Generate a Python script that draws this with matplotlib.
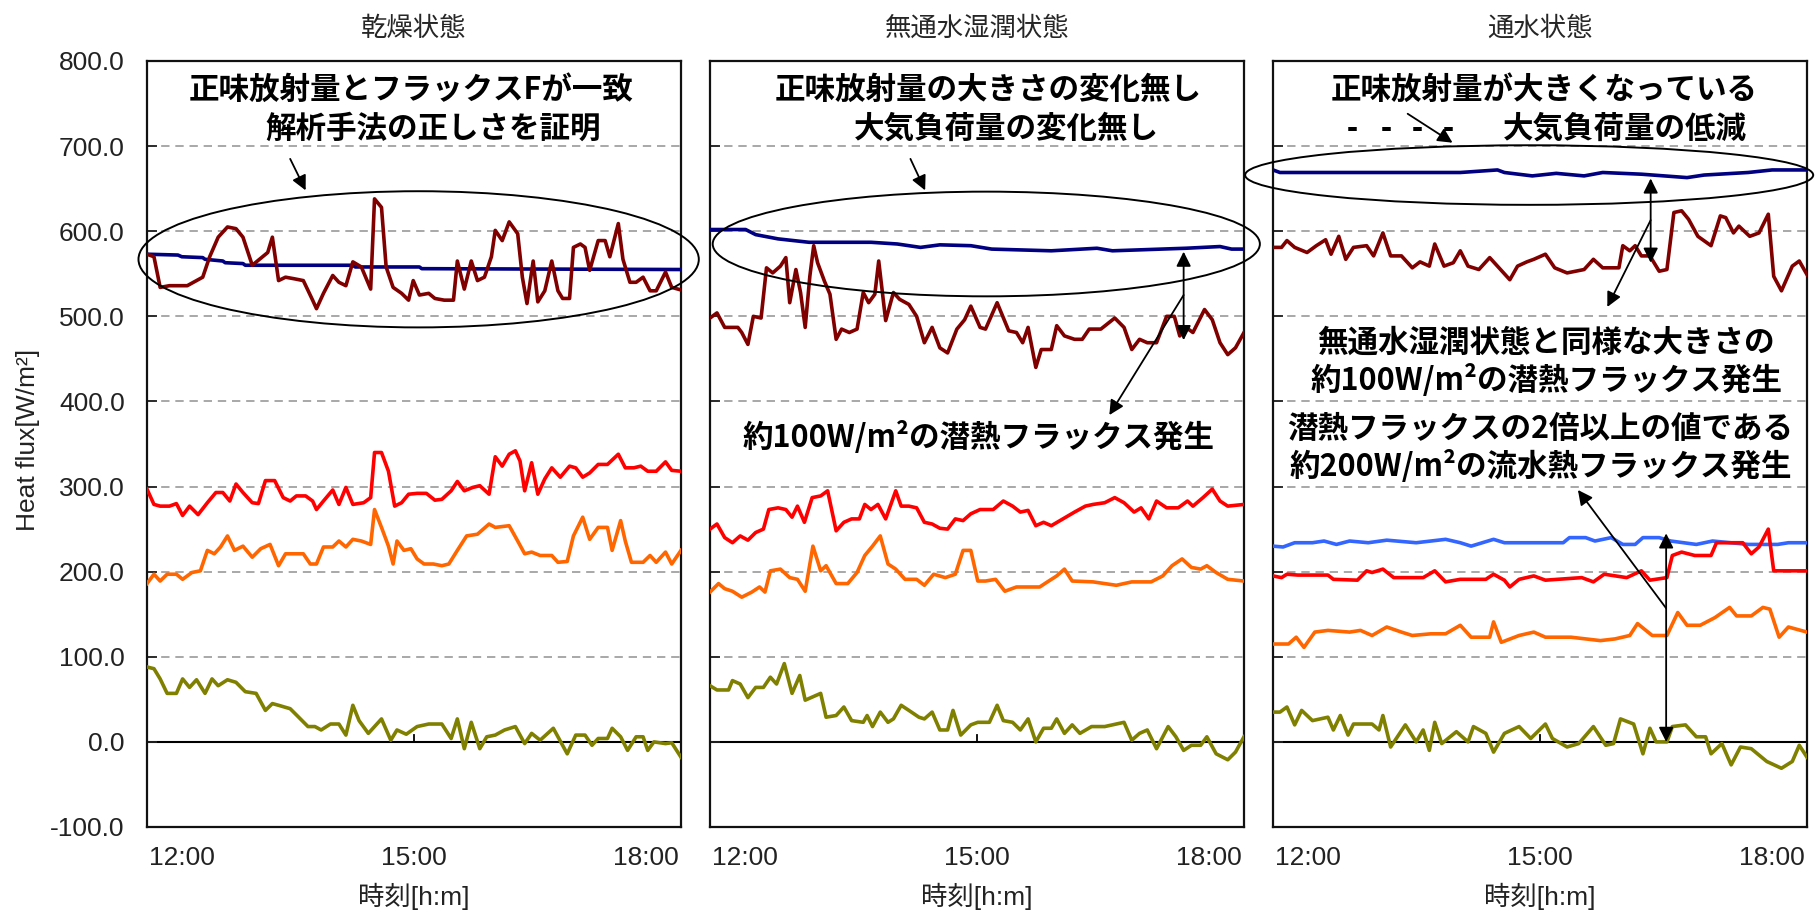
import matplotlib
matplotlib.use('Agg')
import matplotlib.pyplot as plt
from matplotlib.patches import Ellipse

plt.rcParams['font.family'] = ['Liberation Sans', 'Noto Sans CJK JP']

# --- series colours (Excel default-ish) ---
C_RN = '#000080'    # net radiation
C_F = '#800000'     # flux F
C_RED = '#ff0000'
C_ORG = '#ff6600'
C_OLV = '#808000'
C_LBL = '#3366ff'

titles = ['乾燥状態', '無通水湿潤状態', '通水状態']
xticks = [12, 15, 18]
xticklabels = ['12:00', '15:00', '18:00']
yticks = [-100, 0, 100, 200, 300, 400, 500, 600, 700, 800]

# ---------------- 乾燥状態 (time in hours) ----------------
dry_rn_t = [11.55, 11.95, 12.00, 12.27, 12.30, 12.53, 12.56, 12.79, 12.82, 14.21, 14.24, 15.07, 15.10, 18.45]
dry_rn = [573, 572, 570, 569, 567, 565, 563, 562, 560, 560, 558, 558, 556, 555]

dry_F_t = [11.55, 11.64, 11.72, 11.84, 11.95, 12.07, 12.19, 12.27, 12.36, 12.47,
           12.59, 12.70, 12.79, 12.91, 12.99, 13.11, 13.17, 13.25, 13.34, 13.46,
           13.57, 13.69, 13.74, 13.83, 13.95, 14.03, 14.12, 14.21, 14.32, 14.44,
           14.49, 14.58, 14.64, 14.73, 14.84, 14.93, 14.99, 15.07, 15.19, 15.27,
           15.39, 15.51, 15.56, 15.65, 15.74, 15.82, 15.91, 16.00, 16.05, 16.14,
           16.23, 16.34, 16.40, 16.46, 16.54, 16.60, 16.69, 16.78, 16.86, 16.92,
           17.01, 17.06, 17.15, 17.21, 17.27, 17.38, 17.47, 17.53, 17.64, 17.70,
           17.79, 17.87, 17.96, 18.05, 18.13, 18.25, 18.33, 18.45]
dry_F = [573, 570, 534, 536, 536, 536, 542, 546, 570, 593,
         605, 603, 593, 560, 566, 575, 593, 542, 546, 544,
         542, 519, 509, 527, 548, 540, 536, 564, 558, 532,
         638, 628, 558, 534, 527, 519, 542, 525, 527, 521,
         519, 519, 565, 532, 565, 542, 546, 570, 601, 589,
         611, 597, 546, 515, 565, 517, 530, 565, 530, 521,
         521, 581, 585, 581, 554, 589, 589, 570, 609, 567,
         540, 540, 546, 530, 530, 552, 534, 531]

dry_red_t = [11.55, 11.64, 11.72, 11.84, 11.93, 12.01, 12.10, 12.21, 12.33, 12.44,
             12.53, 12.62, 12.70, 12.79, 12.91, 12.99, 13.08, 13.20, 13.31, 13.40,
             13.48, 13.60, 13.69, 13.74, 13.83, 13.95, 14.03, 14.12, 14.21, 14.35,
             14.44, 14.49, 14.58, 14.67, 14.75, 14.84, 14.93, 15.04, 15.16, 15.27,
             15.36, 15.48, 15.56, 15.65, 15.76, 15.85, 15.97, 16.05, 16.14, 16.23,
             16.31, 16.37, 16.43, 16.52, 16.60, 16.69, 16.78, 16.89, 17.01, 17.09,
             17.18, 17.27, 17.38, 17.50, 17.64, 17.73, 17.84, 17.93, 18.02, 18.13,
             18.25, 18.33, 18.45]
dry_red = [297, 279, 277, 277, 280, 266, 277, 267, 281, 293,
           293, 283, 303, 293, 281, 280, 307, 307, 287, 283,
           289, 289, 283, 273, 283, 296, 279, 299, 279, 281,
           287, 340, 340, 318, 277, 281, 291, 292, 292, 284,
           285, 295, 306, 295, 299, 301, 291, 335, 324, 338,
           342, 330, 295, 328, 291, 309, 322, 311, 324, 322,
           311, 316, 326, 326, 338, 322, 322, 324, 318, 318,
           329, 319, 318]

dry_org_t = [11.55, 11.64, 11.72, 11.81, 11.93, 12.01, 12.13, 12.24, 12.33, 12.42,
             12.50, 12.59, 12.68, 12.79, 12.91, 13.02, 13.14, 13.25, 13.34, 13.46,
             13.57, 13.66, 13.74, 13.83, 13.95, 14.03, 14.12, 14.21, 14.32, 14.44,
             14.49, 14.58, 14.67, 14.73, 14.78, 14.87, 14.96, 15.04, 15.13, 15.25,
             15.36, 15.45, 15.56, 15.68, 15.82, 15.97, 16.05, 16.23, 16.34, 16.43,
             16.52, 16.63, 16.78, 16.86, 16.98, 17.06, 17.18, 17.27, 17.38, 17.50,
             17.56, 17.67, 17.73, 17.81, 17.96, 18.05, 18.13, 18.25, 18.33, 18.45]
dry_org = [186, 197, 189, 197, 197, 191, 199, 201, 225, 221,
           229, 242, 225, 230, 217, 227, 232, 207, 221, 221,
           221, 209, 209, 229, 229, 236, 229, 238, 236, 232,
           273, 252, 230, 209, 236, 225, 227, 215, 209, 209,
           207, 209, 225, 242, 244, 256, 252, 254, 236, 221,
           223, 219, 219, 211, 212, 242, 264, 238, 252, 252,
           225, 260, 236, 211, 211, 219, 211, 223, 209, 225]

dry_olv_t = [11.55, 11.64, 11.72, 11.81, 11.93, 12.01, 12.10, 12.19, 12.30, 12.39,
             12.47, 12.59, 12.70, 12.82, 12.96, 13.08, 13.17, 13.25, 13.40, 13.51,
             13.63, 13.72, 13.80, 13.92, 14.03, 14.12, 14.21, 14.29, 14.41, 14.58,
             14.70, 14.78, 14.90, 15.04, 15.19, 15.36, 15.48, 15.56, 15.65, 15.74,
             15.85, 15.94, 16.05, 16.17, 16.31, 16.43, 16.52, 16.63, 16.80, 16.98,
             17.09, 17.21, 17.30, 17.38, 17.50, 17.56, 17.67, 17.76, 17.87, 17.96,
             18.02, 18.10, 18.25, 18.33, 18.45]
dry_olv = [88, 86, 74, 57, 57, 74, 64, 73, 57, 74,
           66, 73, 70, 59, 57, 37, 45, 43, 39, 29,
           18, 18, 14, 21, 21, 8, 43, 25, 10, 27,
           2, 14, 9, 18, 21, 21, 4, 27, -8, 23,
           -8, 6, 8, 14, 18, -2, 10, 2, 16, -14,
           8, 8, -4, 4, 4, 16, 6, -10, 6, 6,
           -10, 0, -2, -1, -18]

# ---------------- 無通水湿潤状態 ----------------
wet_rn_t = [11.55, 12.01, 12.14, 12.43, 12.83, 13.63, 13.97, 14.27, 14.52, 14.92, 15.19, 15.96, 16.55, 16.75, 17.70, 18.14, 18.29, 18.45]
wet_rn = [602, 602, 596, 591, 587, 587, 585, 581, 584, 583, 579, 577, 580, 577, 580, 582, 579, 579]

wet_F_t = [11.55, 11.64, 11.74, 11.91, 11.96, 12.04, 12.11, 12.21, 12.28, 12.36,
           12.46, 12.53, 12.58, 12.66, 12.72, 12.78, 12.84, 12.89, 12.94, 13.03,
           13.10, 13.18, 13.25, 13.35, 13.45, 13.53, 13.60, 13.68, 13.73, 13.82,
           13.92, 14.00, 14.12, 14.22, 14.32, 14.42, 14.52, 14.62, 14.74, 14.84,
           14.92, 15.04, 15.11, 15.26, 15.41, 15.51, 15.59, 15.66, 15.76, 15.83,
           15.96, 16.03, 16.13, 16.26, 16.36, 16.45, 16.60, 16.78, 16.90, 17.00,
           17.10, 17.20, 17.32, 17.45, 17.55, 17.62, 17.70, 17.79, 17.94, 18.04,
           18.14, 18.24, 18.34, 18.45]
wet_F = [498, 504, 487, 487, 481, 467, 500, 498, 557, 551,
         559, 569, 516, 555, 528, 487, 547, 583, 563, 541,
         526, 473, 485, 481, 485, 528, 516, 526, 565, 495,
         528, 520, 514, 500, 469, 487, 463, 457, 485, 496,
         512, 487, 485, 516, 483, 481, 469, 487, 440, 461,
         461, 489, 477, 473, 473, 485, 485, 498, 487, 461,
         473, 469, 469, 500, 500, 477, 487, 481, 508, 496,
         469, 455, 463, 481]

wet_red_t = [11.55, 11.64, 11.74, 11.84, 11.94, 12.04, 12.14, 12.24, 12.31, 12.43,
             12.53, 12.61, 12.68, 12.77, 12.87, 12.98, 13.07, 13.18, 13.28, 13.38,
             13.48, 13.55, 13.63, 13.72, 13.82, 13.95, 14.02, 14.12, 14.22, 14.32,
             14.42, 14.52, 14.62, 14.72, 14.82, 14.92, 15.04, 15.21, 15.34, 15.46,
             15.56, 15.66, 15.76, 15.86, 15.96, 16.11, 16.26, 16.40, 16.50, 16.65,
             16.78, 16.90, 17.03, 17.12, 17.22, 17.32, 17.45, 17.60, 17.72, 17.79,
             17.92, 18.04, 18.14, 18.24, 18.45]
wet_red = [250, 256, 240, 234, 242, 237, 246, 250, 273, 275,
           273, 264, 277, 258, 287, 289, 295, 248, 258, 262,
           262, 279, 273, 279, 262, 295, 277, 277, 275, 258,
           256, 251, 250, 262, 260, 268, 273, 273, 283, 277,
           270, 272, 254, 258, 254, 262, 270, 277, 279, 281,
           287, 281, 270, 275, 262, 283, 275, 275, 283, 277,
           287, 297, 283, 277, 279]

wet_org_t = [11.55, 11.66, 11.74, 11.84, 11.96, 12.09, 12.19, 12.26, 12.33, 12.46,
             12.58, 12.68, 12.78, 12.88, 12.98, 13.05, 13.18, 13.33, 13.45, 13.55,
             13.65, 13.75, 13.85, 13.95, 14.07, 14.22, 14.32, 14.44, 14.59, 14.72,
             14.82, 14.92, 15.01, 15.11, 15.24, 15.36, 15.51, 15.81, 15.91, 16.03,
             16.13, 16.23, 16.50, 16.80, 17.00, 17.25, 17.40, 17.52, 17.65, 17.77,
             17.89, 17.97, 18.09, 18.24, 18.45]
wet_org = [176, 186, 180, 177, 170, 176, 182, 176, 201, 203,
           193, 191, 177, 230, 201, 207, 186, 186, 199, 219,
           230, 242, 209, 203, 191, 191, 184, 197, 193, 197,
           225, 225, 189, 189, 191, 177, 182, 182, 188, 195,
           203, 189, 188, 184, 188, 188, 195, 207, 215, 205,
           203, 207, 199, 191, 189]

wet_olv_t = [11.55, 11.64, 11.79, 11.84, 11.94, 12.04, 12.14, 12.24, 12.33, 12.41,
             12.51, 12.61, 12.71, 12.78, 12.88, 12.98, 13.05, 13.18, 13.28, 13.38,
             13.53, 13.58, 13.65, 13.75, 13.85, 13.92, 14.02, 14.12, 14.25, 14.32,
             14.42, 14.52, 14.62, 14.69, 14.79, 14.92, 15.01, 15.16, 15.26, 15.34,
             15.46, 15.56, 15.66, 15.76, 15.86, 15.96, 16.03, 16.13, 16.23, 16.33,
             16.48, 16.65, 16.80, 16.90, 17.00, 17.10, 17.20, 17.32, 17.47, 17.57,
             17.67, 17.77, 17.89, 17.97, 18.09, 18.24, 18.34, 18.45]
wet_olv = [66, 61, 61, 72, 68, 52, 64, 64, 76, 68,
           92, 57, 78, 49, 53, 57, 29, 31, 41, 25,
           23, 31, 18, 35, 23, 27, 43, 37, 29, 27,
           35, 14, 14, 37, 8, 20, 23, 23, 43, 25,
           23, 14, 27, 0, 16, 16, 27, 10, 20, 10,
           18, 18, 21, 23, 2, 10, 14, -8, 18, 6,
           -10, -4, -4, 6, -14, -21, -12, 6]

# ---------------- 通水状態 ----------------
flow_rn_t = [11.55, 11.64, 13.97, 14.45, 14.54, 14.90, 15.21, 15.57, 15.81, 16.31, 16.90, 17.12, 17.69, 18.00, 18.45]
flow_rn = [672, 669, 669, 672, 669, 665, 668, 665, 669, 667, 663, 666, 669, 672, 672]

flow_lb_t = [11.55, 11.68, 11.83, 12.06, 12.21, 12.37, 12.54, 12.78, 13.02, 13.40,
             13.78, 13.97, 14.11, 14.40, 14.54, 15.30, 15.38, 15.59, 15.71, 15.92,
             16.07, 16.23, 16.33, 16.54, 16.69, 17.02, 17.23, 17.69, 18.07, 18.21,
             18.45]
flow_lb = [230, 229, 234, 234, 236, 232, 236, 234, 237, 234,
           238, 234, 230, 238, 234, 234, 240, 240, 236, 240,
           232, 232, 240, 240, 236, 232, 236, 232, 232, 234,
           234]

flow_F_t = [11.55, 11.66, 11.73, 11.83, 11.99, 12.11, 12.23, 12.30, 12.40, 12.49,
            12.59, 12.76, 12.85, 12.97, 13.07, 13.21, 13.35, 13.45, 13.57, 13.64,
            13.76, 13.88, 13.97, 14.07, 14.21, 14.35, 14.45, 14.61, 14.71, 14.83,
            14.92, 15.07, 15.19, 15.35, 15.57, 15.69, 15.81, 16.02, 16.07, 16.16,
            16.23, 16.31, 16.42, 16.54, 16.64, 16.73, 16.83, 16.92, 17.04, 17.21,
            17.33, 17.40, 17.50, 17.57, 17.71, 17.83, 17.95, 18.02, 18.12, 18.26,
            18.35, 18.45]
flow_F = [581, 581, 589, 581, 575, 583, 590, 573, 594, 567,
          581, 583, 571, 598, 571, 571, 557, 564, 559, 585,
          559, 563, 577, 559, 555, 569, 559, 543, 559, 564,
          567, 573, 557, 551, 555, 567, 557, 557, 583, 577,
          583, 571, 571, 553, 555, 622, 624, 614, 594, 583,
          618, 616, 598, 606, 594, 598, 620, 547, 530, 559,
          565, 549]

flow_red_t = [11.55, 11.66, 11.73, 11.87, 12.26, 12.33, 12.64, 12.76, 12.83, 12.97,
              13.11, 13.49, 13.64, 13.78, 13.97, 14.30, 14.40, 14.54, 14.61, 14.73,
              14.92, 15.07, 15.54, 15.69, 15.83, 16.12, 16.31, 16.42, 16.64, 16.71,
              16.83, 17.00, 17.21, 17.28, 17.62, 17.73, 17.83, 17.95, 18.02, 18.45]
flow_red = [195, 193, 197, 196, 196, 191, 190, 201, 199, 203,
            193, 193, 201, 188, 191, 191, 197, 190, 182, 191,
            195, 190, 193, 188, 197, 193, 201, 190, 193, 219,
            223, 219, 219, 234, 234, 221, 229, 250, 201, 201]

flow_org_t = [11.55, 11.75, 11.85, 11.95, 12.09, 12.26, 12.54, 12.68, 12.83, 13.02,
              13.21, 13.35, 13.59, 13.78, 13.97, 14.11, 14.35, 14.40, 14.50, 14.73,
              14.92, 15.07, 15.40, 15.78, 15.97, 16.16, 16.26, 16.45, 16.64, 16.78,
              16.90, 17.07, 17.26, 17.45, 17.54, 17.73, 17.88, 17.97, 18.09, 18.21,
              18.45]
flow_org = [115, 115, 123, 111, 129, 131, 129, 131, 125, 135,
            129, 125, 127, 127, 137, 123, 123, 141, 117, 125,
            129, 123, 123, 119, 121, 125, 139, 125, 125, 152,
            137, 137, 146, 158, 148, 148, 158, 156, 123, 135,
            129]

flow_olv_t = [11.55, 11.64, 11.73, 11.83, 11.92, 12.06, 12.26, 12.33, 12.42, 12.52,
              12.59, 12.83, 12.92, 12.97, 13.07, 13.26, 13.40, 13.49, 13.57, 13.64,
              13.73, 13.92, 14.07, 14.14, 14.30, 14.40, 14.54, 14.73, 14.88, 15.07,
              15.16, 15.35, 15.50, 15.69, 15.85, 15.95, 16.04, 16.21, 16.33, 16.42,
              16.50, 16.64, 16.71, 16.88, 17.02, 17.14, 17.21, 17.35, 17.47, 17.59,
              17.73, 17.93, 18.12, 18.26, 18.35, 18.45]
flow_olv = [35, 35, 41, 20, 37, 25, 29, 14, 31, 8,
            21, 21, 14, 31, -6, 20, 0, 14, -10, 23,
            -2, 12, 0, 18, 10, -12, 10, 18, 4, 21,
            4, -6, -2, 18, -4, -2, 27, 21, -14, 16,
            0, 0, 18, 20, 6, 6, -14, -2, -27, -6,
            -8, -23, -31, -23, -4, -18]

# ---------------- annotations (text, t, value) ----------------
dry_notes = [('正味放射量とフラックスFが一致', 14.96, 766),
             ('解析手法の正しさを証明', 15.25, 721)]
wet_notes = [('正味放射量の大きさの変化無し', 15.14, 766),
             ('大気負荷量の変化無し', 15.38, 721),
             ('約100W/m²の潜熱フラックス発生', 15.02, 358)]
flow_notes = [('正味放射量が大きくなっている', 15.06, 766),
              ('大気負荷量の低減', 16.10, 721),
              ('無通水湿潤状態と同様な大きさの', 15.08, 469),
              ('約100W/m²の潜熱フラックス発生', 15.08, 425),
              ('潜熱フラックスの2倍以上の値である', 15.00, 368),
              ('約200W/m²の流水熱フラックス発生', 15.01, 323)]

# ellipse: centre t, centre value, width (h), height (W/m2)
dry_ell = (15.06, 567, 7.24, 160)
wet_ell = (15.12, 585, 7.07, 123)
flow_ell = (14.86, 666, 7.34, 70)

# arrows: start, end, style
dry_arrows = [((13.40, 685), (13.60, 648), '-|>')]
wet_arrows = [((14.14, 685), (14.33, 648), '-|>'),
              ((17.67, 576), (17.67, 472), '<|-|>'),
              ((17.67, 525), (16.71, 384), '-|>')]
flow_arrows = [((13.29, 738), (13.87, 704), '-|>'),
               ((16.43, 662), (16.43, 563), '<|-|>'),
               ((16.43, 613), (15.87, 511), '-|>'),
               ((16.63, 245), (16.63, 0), '<|-|>'),
               ((16.63, 157), (15.49, 296), '-|>')]
flow_dash_t = [12.58, 13.02, 13.42, 13.82]

panels = [
    dict(series=[(dry_rn_t, dry_rn, C_RN), (dry_F_t, dry_F, C_F), (dry_red_t, dry_red, C_RED),
                 (dry_org_t, dry_org, C_ORG), (dry_olv_t, dry_olv, C_OLV)],
         notes=dry_notes, ell=dry_ell, arrows=dry_arrows),
    dict(series=[(wet_rn_t, wet_rn, C_RN), (wet_F_t, wet_F, C_F), (wet_red_t, wet_red, C_RED),
                 (wet_org_t, wet_org, C_ORG), (wet_olv_t, wet_olv, C_OLV)],
         notes=wet_notes, ell=wet_ell, arrows=wet_arrows),
    dict(series=[(flow_rn_t, flow_rn, C_RN), (flow_lb_t, flow_lb, C_LBL), (flow_F_t, flow_F, C_F),
                 (flow_red_t, flow_red, C_RED), (flow_org_t, flow_org, C_ORG), (flow_olv_t, flow_olv, C_OLV)],
         notes=flow_notes, ell=flow_ell, arrows=flow_arrows),
]

W, H = 1816, 919
fig = plt.figure(figsize=(W / 100, H / 100), dpi=100)
lefts = [147, 710, 1273]
ax_w, ax_top, ax_bot = 534, 61, 827

note_font = dict(family=['Noto Sans CJK JP'], weight='bold', fontsize=22, color='black')

for i, p in enumerate(panels):
    ax = fig.add_axes([lefts[i] / W, (H - ax_bot) / H, ax_w / W, (ax_bot - ax_top) / H])
    ax.set_xlim(11.55, 18.45)
    ax.set_ylim(-100, 800)

    # dashed grid, solid zero line
    for v in yticks[2:-1]:
        ax.axhline(v, color='#999999', lw=1.2, dashes=(5, 3.5), zorder=1)
    ax.axhline(0, color='black', lw=1.5, zorder=1)
    ax.axvline(15, ymin=1 / 9, ymax=1 / 9 + 0.009, color='black', lw=1.3)

    for t, v, c in p['series']:
        ax.plot(t, v, color=c, lw=2.6, zorder=3)

    ax.set_yticks(yticks)
    ax.set_yticklabels(['%.1f' % v for v in yticks])
    ax.tick_params(axis='y', direction='in', length=7, width=1.3, pad=16,
                   labelsize=19, labelleft=(i == 0), colors='#222222')
    ax.set_xticks(xticks)
    ax.set_xticklabels(xticklabels)
    ax.tick_params(axis='x', length=0, pad=14, labelsize=19, colors='#222222')
    for s in ax.spines.values():
        s.set_linewidth(1.6)
        s.set_color('#111111')

    ax.set_title(titles[i], fontsize=19, pad=18, color='#262626')
    ax.set_xlabel('時刻[h:m]', fontsize=19, labelpad=9, color='#222222')

    for txt, t, v in p['notes']:
        ax.text(t, v, txt, ha='center', va='center', zorder=6, **note_font)

    et, ev, ew, eh = p['ell']
    ax.add_patch(Ellipse((et, ev), ew, eh, fill=False, ec='black', lw=1.4,
                         clip_on=False, zorder=5))

    for (x0, y0), (x1, y1), style in p['arrows']:
        ax.annotate('', xy=(x1, y1), xytext=(x0, y0), annotation_clip=False,
                    arrowprops=dict(arrowstyle=style, color='black', lw=1.3,
                                    mutation_scale=22, shrinkA=0, shrinkB=0),
                    zorder=6)

    if i == 2:
        for t in flow_dash_t:
            ax.text(t, 719, '-', ha='center', va='center', fontsize=24,
                    weight='bold', family='Liberation Sans')

fig.text(28 / W, 1 - 440 / H, 'Heat flux[W/m²]', rotation=90, ha='center',
         va='center', fontsize=19, color='#222222')

fig.savefig('out.png', dpi=100)
